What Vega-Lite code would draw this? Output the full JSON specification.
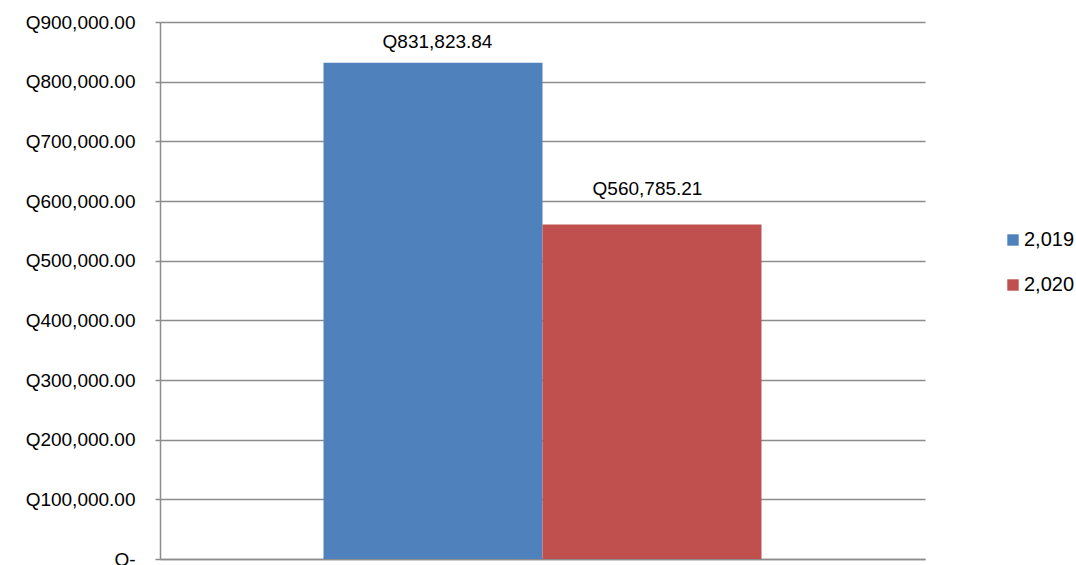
{
  "$schema": "https://vega.github.io/schema/vega-lite/v6.json",
  "width": 765,
  "height": 537,
  "autosize": {"type": "none"},
  "padding": {"left": 160, "top": 22, "right": 151, "bottom": 6},
  "config": {
    "locale": {"number": {"decimal": ".", "thousands": ",", "grouping": [3], "currency": ["Q", ""]}},
    "view": {"stroke": null},
    "font": "Liberation Sans"
  },
  "data": {"values": [
    {"year": 2019, "value": 831823.84},
    {"year": 2020, "value": 560785.21}
  ]},
  "encoding": {
    "x": {
      "field": "year", "type": "nominal",
      "scale": {"paddingInner": 0, "paddingOuter": 0.7466},
      "axis": {"title": null, "labels": false, "ticks": false, "domainColor": "#8c8c8c", "domainWidth": 1.5}
    },
    "y": {
      "field": "value", "type": "quantitative",
      "scale": {"domain": [0, 900000], "nice": false},
      "axis": {
        "title": null,
        "values": [0, 100000, 200000, 300000, 400000, 500000, 600000, 700000, 800000, 900000],
        "format": "$,.2f",
        "labelExpr": "datum.value == 0 ? 'Q-' : datum.label",
        "labelFontSize": 19,
        "labelColor": "#000000",
        "labelPadding": 20,
        "tickSize": 5,
        "tickColor": "#8c8c8c",
        "tickWidth": 1.5,
        "domainColor": "#8c8c8c",
        "domainWidth": 1.5,
        "grid": true,
        "gridColor": "#8c8c8c",
        "gridWidth": 1.5
      }
    }
  },
  "layer": [
    {
      "mark": {"type": "bar"},
      "encoding": {
        "color": {
          "field": "year", "type": "nominal",
          "scale": {"domain": [2019, 2020], "range": ["#4F81BD", "#C0504D"]},
          "legend": {
            "title": null,
            "orient": "none",
            "legendX": 843,
            "legendY": 208,
            "padding": 0,
            "symbolType": "square",
            "symbolSize": 130,
            "symbolStrokeWidth": 0,
            "labelFontSize": 20,
            "labelColor": "#000000",
            "labelOffset": 1,
            "rowPadding": 25,
            "labelExpr": "format(datum.value, ',')"
          }
        }
      }
    },
    {
      "transform": [{"filter": "datum.year == 2019"}],
      "mark": {"type": "text", "dy": -15, "dx": 4.5, "baseline": "alphabetic", "fontSize": 19, "color": "#000000"},
      "encoding": {"text": {"field": "value", "type": "quantitative", "format": "$,.2f"}}
    },
    {
      "transform": [{"filter": "datum.year == 2020"}],
      "mark": {"type": "text", "dy": -29.5, "dx": -4.5, "baseline": "alphabetic", "fontSize": 19, "color": "#000000"},
      "encoding": {"text": {"field": "value", "type": "quantitative", "format": "$,.2f"}}
    }
  ]
}
